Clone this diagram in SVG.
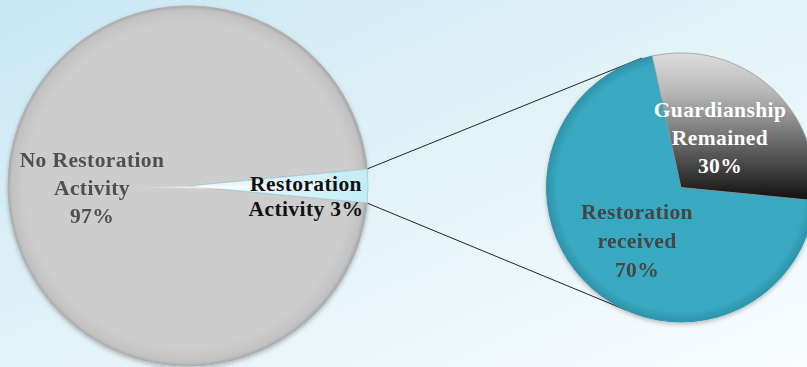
<svg xmlns="http://www.w3.org/2000/svg" width="807" height="367" viewBox="0 0 807 367">
<defs>
<linearGradient id="bg" x1="0" y1="0" x2="1" y2="1">
<stop offset="0" stop-color="#c8e7f2"/>
<stop offset="0.6" stop-color="#e8f5fa"/>
<stop offset="1" stop-color="#f8fcfe"/>
</linearGradient>
<radialGradient id="grayPie" cx="0.5" cy="0.5" r="0.5">
<stop offset="0.9" stop-color="#cdcdcd"/>
<stop offset="0.98" stop-color="#c2c2c2"/>
<stop offset="1" stop-color="#a9a9a9"/>
</radialGradient>
<linearGradient id="wedge" x1="0" y1="0" x2="1" y2="0">
<stop offset="0" stop-color="#f4fbfd"/>
<stop offset="0.6" stop-color="#d8f3f9"/>
<stop offset="1" stop-color="#c4ecf5"/>
</linearGradient>
<linearGradient id="streak" x1="0" y1="0" x2="1" y2="0">
<stop offset="0" stop-color="#ffffff" stop-opacity="0"/>
<stop offset="0.35" stop-color="#ffffff" stop-opacity="0.75"/>
<stop offset="1" stop-color="#ffffff" stop-opacity="0.6"/>
</linearGradient>
<linearGradient id="guard" gradientUnits="userSpaceOnUse" x1="0" y1="55" x2="0" y2="200">
<stop offset="0" stop-color="#dadada"/>
<stop offset="0.25" stop-color="#b9b9b9"/>
<stop offset="0.6" stop-color="#6a6a6a"/>
<stop offset="1" stop-color="#101010"/>
</linearGradient>
<radialGradient id="bluePie" gradientUnits="userSpaceOnUse" cx="681" cy="187.5" r="134.5">
<stop offset="0.92" stop-color="#39a9c1"/>
<stop offset="1" stop-color="#2d93a9"/>
</radialGradient>
<filter id="shadow" x="-10%" y="-10%" width="120%" height="120%">
<feDropShadow dx="0" dy="2" stdDeviation="2" flood-color="#000" flood-opacity="0.25"/>
</filter>
</defs>
<style>
.lbl{font-family:"Liberation Serif","Times New Roman",serif;font-weight:bold;font-size:21.5px;text-anchor:middle;letter-spacing:0.4px}
.gray{fill:#505050}
.dark{fill:#111111}
.white{fill:#ffffff}
.blue{fill:#444444}
.conn{stroke:#222222;stroke-width:1;fill:none}
</style>
<rect id="background" x="0" y="0" width="807" height="367" fill="url(#bg)"/>

<g id="connectors">
<line class="conn" x1="367" y1="169" x2="642" y2="58"/>
<line class="conn" x1="367" y1="203" x2="626" y2="310"/>
</g>

<g id="slice-no-restoration" filter="url(#shadow)">
<path d="M188,186 L367.2,202.9 A180,180 0 1 1 367.2,169.1 Z" fill="url(#grayPie)" stroke="#b0b0b0" stroke-width="1"/>
<text class="lbl gray" x="92" y="167">No Restoration</text>
<text class="lbl gray" x="92" y="195">Activity</text>
<text class="lbl gray" x="92" y="223">97%</text>
</g>

<g id="slice-restoration-activity">
<path d="M188,186 L367.2,169.1 A180,180 0 0 1 367.2,202.9 Z" fill="url(#wedge)" stroke="#9ccfdc" stroke-width="0.8"/>
<polygon points="130,187.5 330,184 330,190" fill="url(#streak)"/>
<text class="lbl dark" x="306" y="191">Restoration</text>
<text class="lbl dark" x="306" y="216">Activity 3%</text>
</g>

<g id="slice-restoration-received" filter="url(#shadow)">
<path d="M681,187.5 L814.9,200.6 A134.5,134.5 0 1 1 652.1,56.1 Z" fill="url(#bluePie)" stroke="#2f95ab" stroke-width="1"/>
<text class="lbl blue" x="637" y="219">Restoration</text>
<text class="lbl blue" x="637" y="248">received</text>
<text class="lbl blue" x="637" y="277">70%</text>
</g>

<g id="slice-guardianship">
<path d="M681,187.5 L652.1,56.1 A134.5,134.5 0 0 1 814.9,200.6 Z" fill="url(#guard)" stroke="#9a9a9a" stroke-width="0.8"/>
<text class="lbl white" x="720" y="117">Guardianship</text>
<text class="lbl white" x="720" y="145">Remained</text>
<text class="lbl white" x="720" y="173">30%</text>
</g>
</svg>
